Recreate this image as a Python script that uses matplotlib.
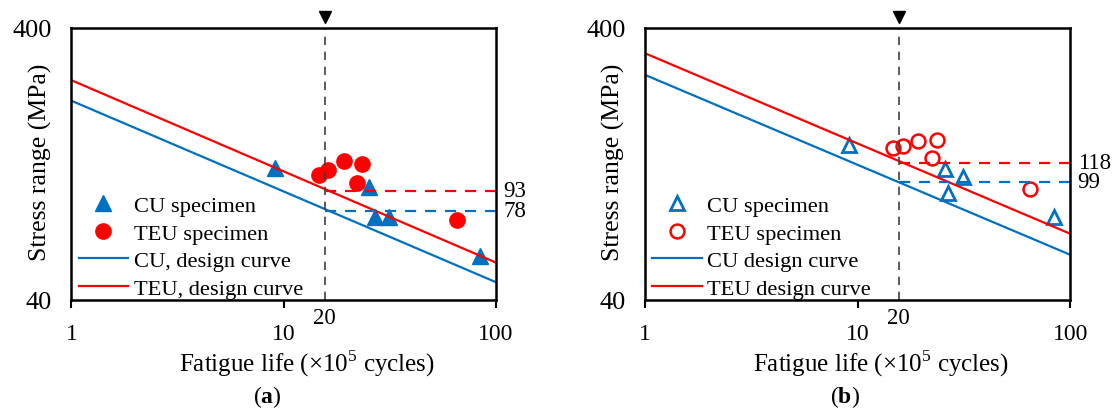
import matplotlib
matplotlib.use("Agg")
import matplotlib.pyplot as plt

plt.rcParams['font.family'] = ['Liberation Serif', 'DejaVu Serif']
plt.rcParams['mathtext.fontset'] = 'custom'
plt.rcParams['mathtext.rm'] = 'Liberation Serif'
plt.rcParams['mathtext.bf'] = 'Liberation Serif:bold'

BLUE = '#0070C0'
RED = '#FF0000'

# panel (a) - solid markers
cu_life_a = [9.1, 25.3, 26.8, 31.3, 84.0]
cu_stress_a = [122, 104, 80.7, 80.7, 58]
teu_life_a = [14.7, 16.2, 19.2, 23.4, 22.1, 65.3]
teu_stress_a = [115.6, 120.6, 130, 127, 107.5, 79]

# panel (b) - open markers
cu_life_b = [9.1, 25.6, 31.4, 26.7, 83.4]
cu_stress_b = [149, 121, 113, 98.8, 80.7]
teu_life_b = [14.6, 16.4, 19.2, 23.5, 22.4, 64.6]
teu_stress_b = [145, 147, 154, 155, 133, 102]

# design curves, end points at life 1 and 100
curve_life = [1, 100]
cu_curve_a = [216, 46.5]
teu_curve_a = [257, 54.9]
cu_curve_b = [269, 58.6]
teu_curve_b = [323, 70.0]

# reference line (drawn position, labelled "20") and levels
ref_life = 15.6
levels_a = [100.7, 85.0]
level_labels_a = ['93', '78']
levels_b = [127.6, 108.6]
level_labels_b = ['118', '99']


def my_plot(ax, cu_x, cu_y, teu_x, teu_y, cu_c, teu_c, levels, lvl_labels,
            filled, comma):
    ax.set_xscale('log')
    ax.set_yscale('log')
    ax.set_xlim(1, 100)
    ax.set_ylim(40, 400)

    if filled:
        cu_pts = ax.plot(cu_x, cu_y, '^', color=BLUE, ms=11, ls='none')[0]
        teu_pts = ax.plot(teu_x, teu_y, 'o', color=RED, ms=11, ls='none')[0]
    else:
        cu_pts = ax.plot(cu_x, cu_y, '^', mfc='none', mec=BLUE, mew=2, ms=10, ls='none')[0]
        teu_pts = ax.plot(teu_x, teu_y, 'o', mfc='none', mec=RED, mew=1.8, ms=10, ls='none')[0]

    cu_line, = ax.plot(curve_life, cu_c, color=BLUE, lw=1.6)
    teu_line, = ax.plot(curve_life, teu_c, color=RED, lw=1.6)

    ax.axvline(ref_life, color='#404040', ls=(0, (5, 4)), lw=1.2)
    ax.plot([ref_life], [1.04], marker='v', color='black', ms=8,
            clip_on=False, transform=ax.get_xaxis_transform())
    ax.plot([ref_life, 100], [levels[0], levels[0]], color=RED, ls=(0, (5, 4)), lw=1.6)
    ax.plot([ref_life, 100], [levels[1], levels[1]], color=BLUE, ls=(0, (5, 4)), lw=1.6)
    for lv, lab in zip(levels, lvl_labels):
        ax.text(1.017, lv, lab, transform=ax.get_yaxis_transform(),
                va='center', ha='left', fontsize=16.5)

    ax.set_xticks([1, 10, 100])
    ax.set_xticklabels(['1', '10', '100'])
    ax.minorticks_off()
    ax.set_yticks([40, 400])
    ax.set_yticklabels(['40', '400'])
    ax.tick_params(axis='x', direction='out', length=6, width=1.5, pad=10.5, labelsize=17)
    ax.tick_params(axis='y', length=0, pad=14, labelsize=19)
    ax.text(ref_life, -0.025, '20', transform=ax.get_xaxis_transform(),
            ha='center', va='top', fontsize=16.5)
    for s in ax.spines.values():
        s.set_linewidth(1.8)

    ax.set_xlabel('Fatigue life (×$10^{5}$ cycles)', fontsize=18)
    ax.xaxis.set_label_coords(0.554, -0.175)
    ax.set_ylabel('Stress range (MPa)', fontsize=18.5)
    ax.yaxis.set_label_coords(-0.047, 0.51)

    sep = ', ' if comma else ' '
    ax.legend([cu_pts, teu_pts, cu_line, teu_line],
              ['CU specimen', 'TEU specimen', 'CU' + sep + 'design curve',
               'TEU' + sep + 'design curve'],
              loc='lower left', bbox_to_anchor=(0.014, 0.0), frameon=False,
              fontsize=16.2, handlelength=2.2, labelspacing=0.3,
              borderaxespad=0.0, handletextpad=0.25, borderpad=0.05)


fig = plt.figure(figsize=(11.13, 4.10), dpi=100)
ax1 = fig.add_axes([0.0642, 0.2659, 0.3814, 0.6634])
ax2 = fig.add_axes([0.5795, 0.2659, 0.3823, 0.6634])

my_plot(ax1, cu_life_a, cu_stress_a, teu_life_a, teu_stress_a, cu_curve_a, teu_curve_a,
        levels_a, level_labels_a, True, True)
my_plot(ax2, cu_life_b, cu_stress_b, teu_life_b, teu_stress_b, cu_curve_b, teu_curve_b,
        levels_b, level_labels_b, False, False)

fig.text(267 / 1113, 13 / 410, '($\\mathbf{a}$)', ha='center', va='center', fontsize=17)
fig.text(845 / 1113, 13 / 410, '($\\mathbf{b}$)', ha='center', va='center', fontsize=17)

fig.savefig('out.png', dpi=100)
